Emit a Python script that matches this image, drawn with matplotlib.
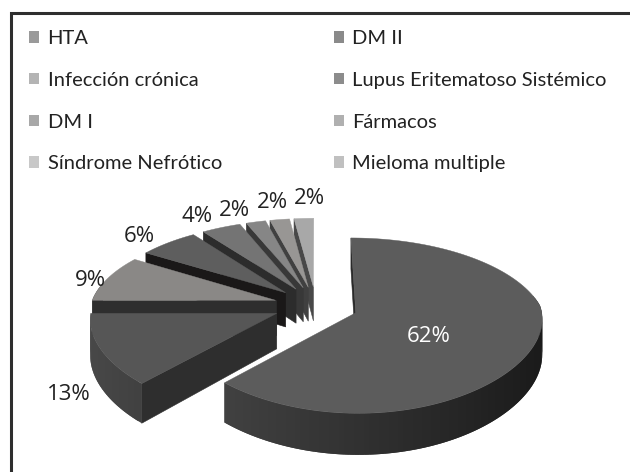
import numpy as np
import matplotlib
matplotlib.use('Agg')
import matplotlib.pyplot as plt
from matplotlib.patches import Polygon, Rectangle

plt.rcParams['font.family'] = ['Lato', 'DejaVu Sans']

categories = ['HTA', 'Infección crónica', 'DM I', 'Síndrome Nefrótico',
              'DM II', 'Lupus Eritematoso Sistémico', 'Fármacos', 'Mieloma multiple']
# pie order, clockwise from 12 o'clock
pie_order = ['HTA', 'DM II', 'Infección crónica', 'Lupus Eritematoso Sistémico',
             'DM I', 'Fármacos', 'Síndrome Nefrótico', 'Mieloma multiple']
percent = [62, 13, 9, 6, 4, 2, 2, 2]

top_colors = ['#5c5c5c', '#565656', '#8a8886', '#5e5e5e', '#747474', '#868686', '#989694', '#a8a8a8']
face_colors = ['#2a2a2a', '#2e2e2e', '#2e2e2e', '#1a1818', '#2c2c2c', '#383838', '#404040', '#484848']
legend_colors = ['#9a9a9a', '#8a8a8a', '#b4b4b4', '#8c8c8c', '#a8a8a8', '#b0b0b0', '#c8c8c8', '#c0c0c0']

# label centres in pixels
label_xy = [(429, 336), (69, 394), (90, 280), (139, 237), (197, 217), (234, 210), (272, 203), (309, 199)]

# projection of the pie plane to pixels
CX, CY = 316, 305.6
RX, RY = 185, 83.7
PERSP = 0.145
EXPLODE = 0.23
DEPTH = 35


def project(u, v, down=False):
    w = 1 + PERSP * v
    # front half widens less than the back half narrows
    wx = np.where(np.asarray(v) > 0, w, 1 + 0.06 * np.asarray(v))
    x = CX + RX * u / wx
    y = CY - RY * v / w
    if down:
        y = y + DEPTH / w
    return x, y


def ring(center, angles, down=False):
    u = center[0] + np.sin(angles)
    v = center[1] + np.cos(angles)
    x, y = project(u, v, down)
    return np.column_stack([x, y])


def radial_face(ax, center, angle, color):
    tip = (center[0] + np.sin(angle), center[1] + np.cos(angle))
    pts = [project(*center), project(*tip), project(*tip, down=True), project(*center, down=True)]
    ax.add_patch(Polygon(pts, closed=True, fc=color, ec=color, lw=0.4))


def draw_slice(ax, start, end, top_color, face_color):
    mid = (start + end) / 2
    center = (EXPLODE * np.sin(mid), EXPLODE * np.cos(mid))
    angles = np.linspace(start, end, max(int((end - start) * 40), 4))

    # outer wall, shaded by direction; each quad overlaps the next to hide seams
    up = ring(center, angles)
    low = ring(center, angles, down=True)
    n = len(angles)
    for i in range(n - 1):
        a = (angles[i] + angles[i + 1]) / 2
        if np.cos(a) > 0.2:
            continue
        g = (0x31 - 0x17 * np.sin(a)) / 255
        j = min(i + 2, n - 1)
        quad = [up[i], up[j], low[j], low[i]]
        ax.add_patch(Polygon(quad, closed=True, fc=(g, g, g), ec='none'))

    # only the cut faces turned to the viewer
    if np.sin(start) < 1e-6:
        radial_face(ax, center, start, face_color)
    if np.sin(end) > 1e-6:
        radial_face(ax, center, end, face_color)

    pts = np.vstack([project(*center), up])
    ax.add_patch(Polygon(pts, closed=True, fc=top_color, ec=top_color, lw=0.3))


fig = plt.figure(figsize=(6.3, 4.72), dpi=100)
ax = fig.add_axes([0, 0, 1, 1])
ax.set_xlim(0, 630)
ax.set_ylim(472, 0)
ax.axis('off')

# frame: only the top and left rules show
ax.plot([11, 11, 630], [472, 13, 13], color='#2e2e2e', lw=2.2, solid_joinstyle='miter')

edges = np.cumsum([0] + percent) / np.sum(percent) * 2 * np.pi

# back to front: small slices first, 13% then 62% last
for i in [7, 6, 5, 4, 3, 2, 1, 0]:
    draw_slice(ax, edges[i], edges[i + 1], top_colors[i], face_colors[i])

for i, p in enumerate(percent):
    color = 'white' if i == 0 else '#222222'
    ax.text(label_xy[i][0], label_xy[i][1], '%d%%' % p, color=color, fontsize=16,
            family=['Open Sans', 'DejaVu Sans'], ha='center', va='center')

handles = []
for name in categories:
    col = legend_colors[pie_order.index(name)]
    handles.append(Rectangle((0, 0), 1, 1, fc=col, ec='none'))
ax.legend(handles, categories, ncol=2, frameon=False, loc='upper left',
          bbox_to_anchor=(29 / 630, 1 - 30 / 472), bbox_transform=ax.transAxes,
          borderaxespad=0, borderpad=0, fontsize=14.5, labelcolor='#222222',
          handlelength=0.5, handleheight=0.5, handletextpad=0.42,
          labelspacing=1.23, columnspacing=5.55)

fig.savefig('out.png', dpi=100)
